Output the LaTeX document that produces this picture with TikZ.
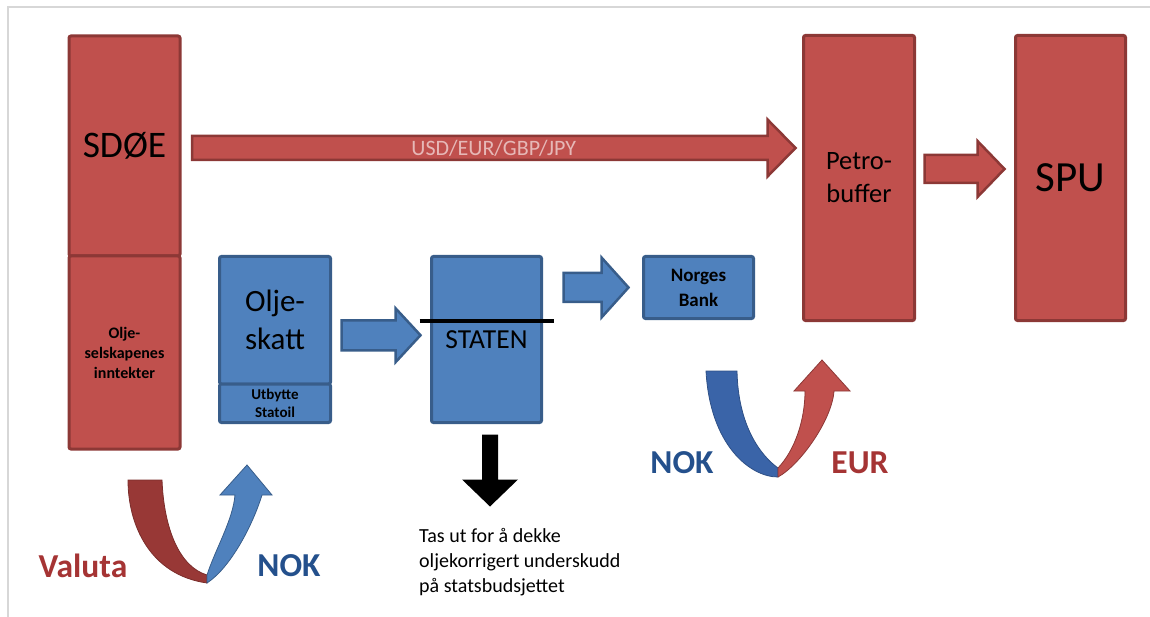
\documentclass[tikz,border=0pt]{standalone}
\usepackage{fontspec}
\setmainfont{Carlito}
\usepackage{xcolor}
\usepackage{tikz}
\usetikzlibrary{calc,positioning}
\definecolor{boxRed}{RGB}{192,80,77}
\definecolor{boxRedLine}{RGB}{140,56,54}
\definecolor{boxBlue}{RGB}{79,129,189}
\definecolor{boxBlueLine}{RGB}{56,93,138}
\definecolor{usdPink}{RGB}{230,184,183}
\definecolor{uRedDark}{RGB}{152,56,54}
\definecolor{uBlueDark}{RGB}{58,100,168}
\definecolor{valutaRed}{RGB}{165,52,52}
\definecolor{nokBlue}{RGB}{36,80,140}
\definecolor{frameGray}{RGB}{215,215,215}
\newcommand{\FontPx}[2]{\fontsize{#1}{#2}\selectfont}
\tikzset{
  redBox/.style={draw=boxRedLine, fill=boxRed, line width=3pt, rounded corners=2pt,
    inner sep=0pt, outer sep=0pt, align=center},
  blueBox/.style={draw=boxBlueLine, fill=boxBlue, line width=3pt, rounded corners=2pt,
    inner sep=0pt, outer sep=0pt, align=center},
  redArrow/.style={draw=boxRedLine, fill=boxRed, line width=2.5pt, line join=miter},
  blueArrow/.style={draw=boxBlueLine, fill=boxBlue, line width=2.5pt, line join=miter},
  blackArrow/.style={fill=black},
  barLine/.style={draw=black, line width=4pt},
  frameLine/.style={draw=frameGray, line width=1.5pt},
  labelText/.style={font=\bfseries\FontPx{33.5}{40}, inner sep=0pt},
  noteText/.style={font=\FontPx{20}{25}, align=left, inner sep=0pt}
}
\newcommand{\BlockArrow}[6]{% #1=style, #2=tail, #3=tip, #4=half shaft, #5=half head, #6=head length
  \coordinate (ba-h) at ($(#3)!#6!(#2)$);
  \path[#1] ($(#2)!#4!90:(#3)$) -- ($(ba-h)!#4!90:(#3)$) -- ($(ba-h)!#5!90:(#3)$) -- (#3)
    -- ($(ba-h)!#5!-90:(#3)$) -- ($(ba-h)!#4!-90:(#3)$) -- ($(#2)!#4!-90:(#3)$) -- cycle;
}

\begin{document}
\begin{tikzpicture}[x=1pt, y=-1pt]
  \useasboundingbox (0,0) rectangle (1150,617);
  \draw[frameLine] (1150,7) -- (8,7) -- (8,617);
  % red boxes
  \node[redBox, minimum width=111pt, minimum height=220pt, font=\FontPx{37.5}{44}] (sdoe) at (124.5,146) {SDØE};
  \node[redBox, minimum width=111pt, minimum height=193pt, font=\bfseries\FontPx{16}{20},
    below=0pt of sdoe] (inntekt) {Olje-\\selskapenes\\inntekter};
  \node[redBox, minimum width=111pt, minimum height=285pt, font=\FontPx{26.5}{33}] (petro) at (859,178) {Petro-\\buffer};
  \node[redBox, minimum width=110pt, minimum height=285pt, font=\FontPx{43}{50}] (spu) at (1070.5,178) {SPU};
  % blue boxes
  \node[blueBox, minimum width=111pt, minimum height=127.5pt, font=\FontPx{31}{38}] (skatt) at (275,320.25) {Olje-\\skatt};
  \node[blueBox, minimum width=111pt, minimum height=38.5pt, font=\bfseries\FontPx{15}{18},
    below=0pt of skatt] (utbytte) {Utbytte\\Statoil};
  \node[blueBox, minimum width=110pt, minimum height=166pt, font=\FontPx{27.5}{32}] (staten) at (486.5,339.5) {STATEN};
  \node[blueBox, minimum width=110pt, minimum height=62pt, font=\bfseries\FontPx{19}{25}] (norges) at (698.5,287.5) {Norges\\Bank};
  \coordinate (barL) at ($(staten.north west)+(-12,64)$);
  \coordinate (barR) at ($(staten.north east)+(12,64)$);
  \draw[barLine] (barL) -- (barR);
  % block arrows
  \coordinate (usdTail) at ($(sdoe.east)+(12,2)$);
  \coordinate (usdTip) at ($(petro.west |- usdTail)+(-8,0)$);
  \BlockArrow{redArrow}{usdTail}{usdTip}{12pt}{28.5pt}{28pt}
  \node[font=\FontPx{22}{26}, text=usdPink] (usd) at ($(usdTail)!0.5!(usdTip)$) {USD/EUR/GBP/JPY};
  \coordinate (petroTail) at ($(petro.east)+(10,-9)$);
  \coordinate (petroTip) at ($(spu.west |- petroTail)+(-11,0)$);
  \BlockArrow{redArrow}{petroTail}{petroTip}{14pt}{28pt}{27pt}
  \coordinate (skattTail) at ($(skatt.east)+(11,15)$);
  \coordinate (skattTip) at ($(staten.west |- skattTail)+(-11,0)$);
  \BlockArrow{blueArrow}{skattTail}{skattTip}{15pt}{27pt}{25pt}
  \coordinate (statenTail) at ($(staten.east |- norges.west)+(22,0)$);
  \coordinate (statenTip) at ($(norges.west)+(-15,0)$);
  \BlockArrow{blueArrow}{statenTail}{statenTip}{14.5pt}{30pt}{27pt}
  \coordinate (downTail) at ($(staten.south)+(3.5,12)$);
  \coordinate (downTip) at ($(staten.south)+(3.5,84)$);
  \BlockArrow{blackArrow}{downTail}{downTip}{8pt}{28pt}{27pt}
  \node[noteText, anchor=north west] (note) at (419,528)
    {Tas ut for å dekke\\oljekorrigert underskudd\\på statsbudsjettet};
  % exchange: valuta -> NOK
  \path[fill=uRedDark, draw=uRedDark!80!black, line width=0.8pt]
    (128,480) .. controls (128,525) and (150,575) .. (207,583) -- (207,575)
    .. controls (180,567) and (164,530) .. (162,480) -- cycle;
  \path[fill=boxBlue, draw=boxBlueLine, line width=0.8pt]
    (207,575) .. controls (215,550) and (233,520) .. (235,495) -- (220,495) -- (247,465)
    -- (272,495) -- (262,495) .. controls (252,527) and (230,568) .. (207,583) -- cycle;
  \node[labelText, text=valutaRed] (valuta) at (83,566) {Valuta};
  \node[labelText, text=nokBlue] (nokA) at (289,566) {NOK};
  % exchange: NOK -> EUR
  \path[fill=uBlueDark, draw=uBlueDark!80!black, line width=0.8pt]
    (706,371) .. controls (710,445) and (750,477) .. (778,477) -- (778,468)
    .. controls (760,455) and (738,425) .. (737,371) -- cycle;
  \path[fill=boxRed, draw=boxRedLine, line width=0.8pt]
    (778,468) .. controls (795,450) and (805,420) .. (805,391) -- (794,391) -- (822,360)
    -- (850,391) -- (834,391) .. controls (832,420) and (800,465) .. (778,477) -- cycle;
  \node[labelText, text=nokBlue] (nokB) at (682,463) {NOK};
  \node[labelText, text=valutaRed] (eur) at (860,463) {EUR};
\end{tikzpicture}
\end{document}
